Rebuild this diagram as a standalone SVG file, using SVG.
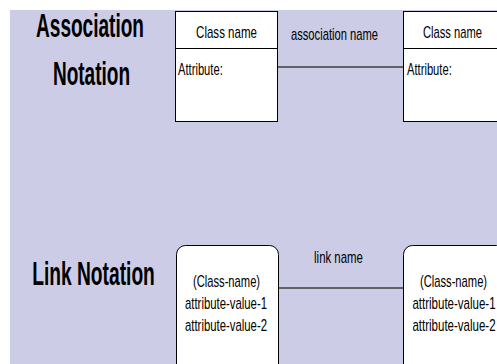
<svg xmlns="http://www.w3.org/2000/svg" width="497" height="364" viewBox="0 0 497 364">
  <style>
    .title { font-family: "Liberation Sans", Arial, sans-serif; font-weight: bold; font-size: 34px; fill: #000; text-anchor: middle; }
    .lbl { font-family: "Liberation Sans", Arial, sans-serif; font-size: 16px; fill: #000; }
    .mid { text-anchor: middle; }
    .box { fill: #fff; stroke: #000; stroke-width: 1; }
    .sep { stroke: #000; stroke-width: 1; }
    .conn { stroke: #3c3c3c; stroke-width: 1.5; fill: none; }
  </style>
  <rect x="0" y="0" width="497" height="364" fill="#fff"/>
  <rect x="10" y="10" width="487" height="354" fill="#cccce6"/>

  <!-- section headings (narrow lettering) -->
  <text class="title" transform="translate(90 37) scale(0.56 1)">Association</text>
  <text class="title" transform="translate(91.5 85) scale(0.56 1)">Notation</text>
  <text class="title" transform="translate(93.5 285) scale(0.565 1)">Link Notation</text>

  <!-- connectors -->
  <g id="connectors">
    <line class="conn" x1="277" y1="67" x2="403" y2="67"/>
    <text class="lbl mid" transform="translate(334.5 40) scale(0.7 1)">association name</text>
    <line class="conn" x1="278" y1="288" x2="403" y2="288"/>
    <text class="lbl mid" transform="translate(338.5 263) scale(0.715 1)">link name</text>
  </g>

  <!-- class boxes -->
  <g id="class-left">
    <rect class="box" x="175.5" y="11.5" width="102" height="110"/>
    <line class="sep" x1="175.5" y1="48.5" x2="277.5" y2="48.5"/>
    <text class="lbl mid" transform="translate(226.5 38) scale(0.72 1)">Class name</text>
    <text class="lbl" transform="translate(178 75) scale(0.7 1)">Attribute:</text>
  </g>
  <g id="class-right">
    <rect class="box" x="403.5" y="11.5" width="100" height="110"/>
    <line class="sep" x1="403.5" y1="48.5" x2="503.5" y2="48.5"/>
    <text class="lbl mid" transform="translate(452.5 38) scale(0.7 1)">Class name</text>
    <text class="lbl" transform="translate(407 75) scale(0.7 1)">Attribute:</text>
  </g>

  <!-- object boxes -->
  <g id="object-left">
    <rect class="box" x="176.5" y="245.5" width="102" height="130" rx="9" ry="9"/>
    <text class="lbl mid" transform="translate(226.5 287) scale(0.7 1)">(Class-name)</text>
    <text class="lbl mid" transform="translate(226 309) scale(0.71 1)">attribute-value-1</text>
    <text class="lbl mid" transform="translate(226 331) scale(0.71 1)">attribute-value-2</text>
  </g>
  <g id="object-right">
    <rect class="box" x="403.5" y="245.5" width="102" height="130" rx="9" ry="9"/>
    <text class="lbl mid" transform="translate(453.5 287) scale(0.7 1)">(Class-name)</text>
    <text class="lbl mid" transform="translate(454 309) scale(0.72 1)">attribute-value-1</text>
    <text class="lbl mid" transform="translate(454 331) scale(0.72 1)">attribute-value-2</text>
  </g>
</svg>
